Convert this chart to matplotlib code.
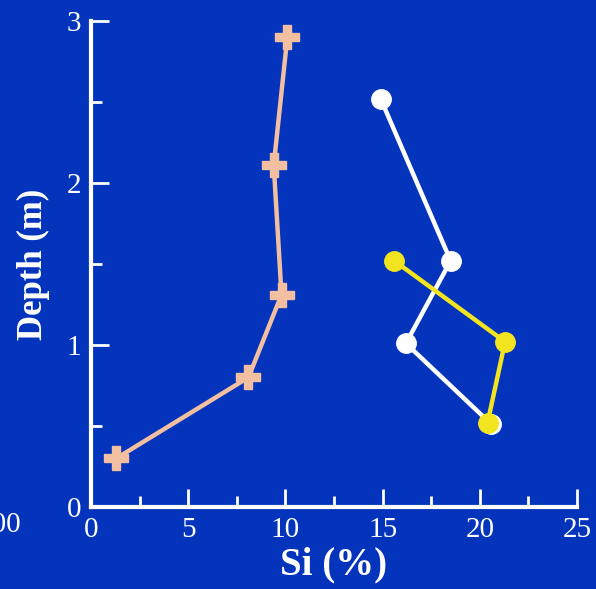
import matplotlib
matplotlib.use("Agg")
import matplotlib.pyplot as plt
from matplotlib.ticker import MultipleLocator

BG = "#0433BC"
PINK = "#F2BFA0"
YELLOW = "#F2E41E"

# pink crosses
pink_si = [1.3, 8.1, 9.8, 9.4, 10.1]
pink_depth = [0.30, 0.80, 1.31, 2.11, 2.90]
# white circles
white_si = [14.9, 18.5, 16.2, 20.6]
white_depth = [2.52, 1.52, 1.01, 0.51]
# yellow circles
yellow_si = [15.6, 21.3, 20.4]
yellow_depth = [1.52, 1.02, 0.52]

plt.rcParams["font.family"] = ["Liberation Serif", "DejaVu Serif"]

fig = plt.figure(figsize=(5.96, 5.89), dpi=100, facecolor=BG)
ax = fig.add_axes([91 / 596, 1 - 507 / 589, 486 / 596, 486 / 589])
ax.set_facecolor(BG)

ax.plot(pink_si, pink_depth, color=PINK, lw=3.2, marker="P", ms=17,
        mec=PINK, mfc=PINK, clip_on=False, zorder=3)
ax.plot(white_si, white_depth, color="white", lw=3.2, marker="o", ms=14,
        clip_on=False, zorder=3)
ax.plot(yellow_si, yellow_depth, color=YELLOW, lw=3.2, marker="o", ms=14,
        clip_on=False, zorder=4)

ax.set_xlim(0, 25)
ax.set_ylim(0, 3)
ax.xaxis.set_major_locator(MultipleLocator(5))
ax.xaxis.set_minor_locator(MultipleLocator(2.5))
ax.yaxis.set_major_locator(MultipleLocator(1))
ax.yaxis.set_minor_locator(MultipleLocator(0.5))

for s in ["top", "right"]:
    ax.spines[s].set_visible(False)
for s in ["left", "bottom"]:
    ax.spines[s].set_color("white")
    ax.spines[s].set_linewidth(3)

ax.tick_params(which="major", direction="in", length=13, width=2,
               colors="white", labelsize=21, pad=7)
ax.tick_params(which="minor", direction="in", length=8, width=2,
               colors="white")

ax.set_xlabel("Si (%)", color="white", fontsize=28, fontweight="bold",
              labelpad=3)
ax.set_ylabel("Depth (m)", color="white", fontsize=25, fontweight="bold",
              labelpad=12)

# clipped label from the neighbouring panel
fig.text(21 / 596, 1 - 525 / 589, "100", color="white", fontsize=21,
         ha="right", va="center")

fig.savefig("out.png", dpi=100, facecolor=BG)
